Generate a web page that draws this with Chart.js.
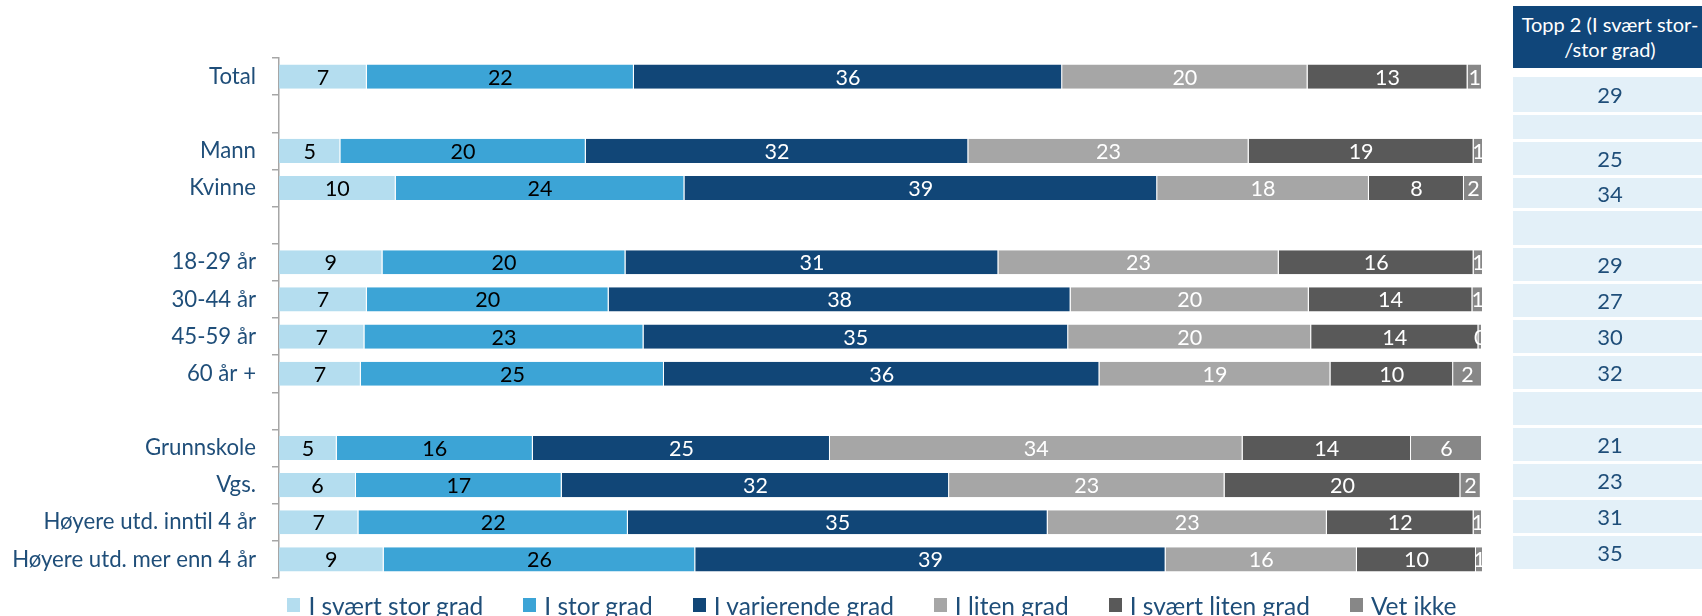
<!DOCTYPE html>
<html>
<head>
<meta charset="utf-8">
<script src="https://cdn.jsdelivr.net/npm/chart.js@4.4.1/dist/chart.umd.min.js"></script>
<style>
  html, body { margin: 0; padding: 0; background: #fff; overflow: hidden; }
  #wrap { position: relative; width: 1702px; height: 616px; overflow: hidden; font-family: Lato, sans-serif; }
  #chart { position: absolute; left: 0; top: 0; }
  .cell { position: absolute; left: 1513px; width: 194px; background: #e3f0f8; color: #1f4e79;
          font-size: 22px; display: flex; align-items: center; justify-content: center; }
  .head { background: #10467a; color: #fff; font-size: 20px; line-height: 25px; text-align: center; }
  #legend { position: absolute; left: 0; top: 591px; width: 1744px; height: 28px;
            display: flex; justify-content: center; align-items: center; gap: 40px; }
  #legend .item { display: flex; align-items: center; gap: 8px; color: #1f4e79; font-size: 24.5px; white-space: nowrap; }
  #legend .box { width: 13px; height: 14px; }
</style>
</head>
<body>
<div id="wrap">
  <canvas id="chart" width="1702" height="616"></canvas>
  <div id="legend"></div>
</div>
<script>
const categories = ["Total", "", "Mann", "Kvinne", "", "18-29 år", "30-44 år", "45-59 år", "60 år +", "",
  "Grunnskole", "Vgs.", "Høyere utd. inntil 4 år", "Høyere utd. mer enn 4 år"]
const seriesNames = ["I svært stor grad", "I stor grad", "I varierende grad", "I liten grad", "I svært liten grad", "Vet ikke"]

// shares in percent (labels show them rounded)
const sværtStor = [7.3, null, 5.1, 9.7, null, 8.6, 7.3, 7.1, 6.8, null, 4.8, 6.4, 6.6, 8.7]
const stor = [22.2, null, 20.4, 24.0, null, 20.2, 20.1, 23.2, 25.2, null, 16.3, 17.1, 22.4, 25.9]
const varierende = [35.6, null, 31.8, 39.3, null, 31.0, 38.4, 35.3, 36.2, null, 24.7, 32.2, 34.9, 39.1]
const liten = [20.4, null, 23.3, 17.6, null, 23.3, 19.8, 20.2, 19.2, null, 34.3, 22.9, 23.2, 15.9]
const sværtLiten = [13.3, null, 18.7, 7.9, null, 16.2, 13.6, 13.9, 10.2, null, 14.0, 19.6, 12.2, 9.9]
const vetIkke = [1.2, null, 0.8, 1.6, null, 0.8, 0.9, 0.3, 2.4, null, 5.9, 1.7, 0.7, 0.6]

const topp2Title = ["Topp 2 (I svært stor-", "/stor grad)"]
const topp2 = [29, null, 25, 34, null, 29, 27, 30, 32, null, 21, 23, 31, 35]

const colors = ["#b4ddef", "#3ca4d6", "#114677", "#a6a6a6", "#595959", "#878787"]
const labelColors = ["#000", "#000", "#fff", "#fff", "#fff", "#fff"]

Chart.defaults.font.family = "Lato"

const barLabels = {
  id: "barLabels",
  afterDatasetsDraw(chart) {
    const { ctx, chartArea } = chart
    ctx.save()
    ctx.beginPath()
    ctx.rect(chartArea.left, chartArea.top, chartArea.width, chartArea.height)
    ctx.clip()
    ctx.font = "21.5px Lato"
    ctx.textAlign = "center"
    ctx.textBaseline = "middle"
    chart.data.datasets.forEach((ds, i) => {
      ctx.fillStyle = labelColors[i]
      chart.getDatasetMeta(i).data.forEach((bar, j) => {
        const v = ds.data[j]
        if (v == null) return
        ctx.fillText(Math.round(v), (bar.x + bar.base) / 2, bar.y + 1)
      })
    })
    ctx.restore()
  }
}

const seriesData = [sværtStor, stor, varierende, liten, sværtLiten, vetIkke]

const chart = new Chart(document.getElementById("chart"), {
  type: "bar",
  data: {
    labels: categories,
    datasets: seriesNames.map((name, i) => ({
      label: name,
      data: seriesData[i],
      backgroundColor: colors[i],
      borderColor: "#ffffff",
      borderWidth: { top: 0, bottom: 0, left: 0, right: 1 },
      barPercentage: 0.65,
      categoryPercentage: 1
    }))
  },
  options: {
    indexAxis: "y",
    responsive: false,
    animation: false,
    layout: { padding: { top: 58, right: 220, bottom: 38, left: 0 } },
    plugins: {
      legend: { display: false },
      tooltip: { enabled: false }
    },
    scales: {
      x: { stacked: true, min: 0, max: 100, display: false },
      y: {
        stacked: true,
        afterFit: (scale) => { scale.width = 279 },
        grid: { offset: true, drawOnChartArea: false, tickLength: 7, color: "#a6a6a6", lineWidth: 1.5 },
        border: { color: "#a6a6a6", width: 1.5 },
        ticks: { color: "#1f4e79", font: { size: 22.2 }, padding: 16, autoSkip: false }
      }
    }
  },
  plugins: [barLabels]
})

// legend built from the chart's own legend items
const legendEl = document.getElementById("legend")
chart.options.plugins.legend.labels.generateLabels(chart).forEach((item) => {
  const el = document.createElement("div")
  el.className = "item"
  const box = document.createElement("span")
  box.className = "box"
  box.style.background = item.fillStyle
  const txt = document.createElement("span")
  txt.textContent = item.text
  el.append(box, txt)
  legendEl.append(el)
})

// Topp 2 column
const wrap = document.getElementById("wrap")
const headRow = { top: 6, height: 62 }
const tableRows = [[77, 35], [115, 24], [142, 33], [178, 30], [211, 34], [248, 33], [284, 33],
  [320, 33], [356, 33], [392, 33], [428, 33], [464, 33], [500, 33], [536, 33]]

const head = document.createElement("div")
head.className = "cell head"
head.style.top = headRow.top + "px"
head.style.height = headRow.height + "px"
head.innerHTML = topp2Title.join("<br>")
wrap.append(head)

topp2.forEach((v, i) => {
  const c = document.createElement("div")
  c.className = "cell"
  c.style.top = tableRows[i][0] + "px"
  c.style.height = tableRows[i][1] + "px"
  c.textContent = v == null ? "" : v
  wrap.append(c)
})
</script>
</body>
</html>
